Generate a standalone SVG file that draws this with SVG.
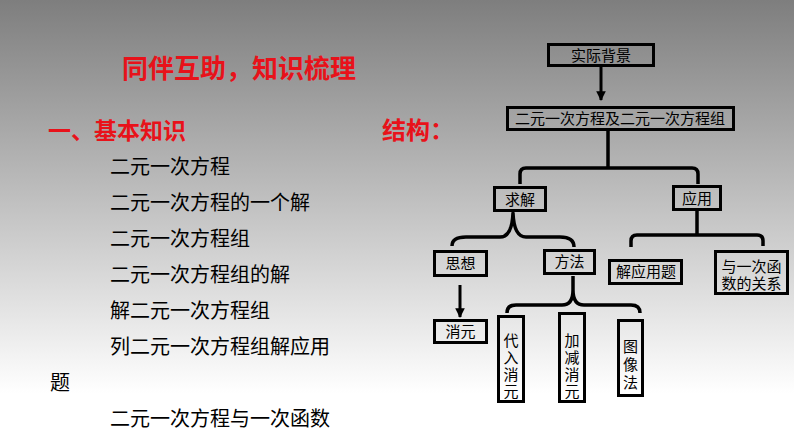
<svg xmlns="http://www.w3.org/2000/svg" width="794" height="447" viewBox="0 0 794 447">
<defs>
<linearGradient id="bg" x1="0" y1="0" x2="0" y2="1">
<stop offset="0" stop-color="#7e7e7e"/>
<stop offset="0.88" stop-color="#ffffff"/>
<stop offset="1" stop-color="#ffffff"/>
</linearGradient>
<marker id="arr" viewBox="0 0 10 10" refX="9" refY="5" markerWidth="3.2" markerHeight="3.2" orient="auto" markerUnits="strokeWidth">
<path d="M0,0 L10,5 L0,10 Z" fill="#000"/>
</marker>
<style>
text{font-family:"Noto Sans CJK SC","Noto Sans",sans-serif;}
.red{fill:#e8121a;font-weight:bold;}
.li{font-size:20px;fill:#000;}
.box{fill:none;stroke:#000;stroke-width:3;}
.n{font-size:15px;fill:#000;text-anchor:middle;}
.v{font-size:15px;fill:#000;writing-mode:vertical-rl;letter-spacing:2px;}
.ln{fill:none;stroke:#000;stroke-width:3.5;stroke-linejoin:round;}
</style>
</defs>
<rect x="0" y="0" width="794" height="447" fill="url(#bg)"/>
<text class="red" x="122" y="78" font-size="26">同伴互助，知识梳理</text>
<text class="red" x="48" y="139" font-size="23">一、基本知识</text>
<text class="red" x="382" y="139" font-size="24">结构：</text>
<g id="list">
<text class="li" x="110" y="174">二元一次方程</text>
<text class="li" x="110" y="210">二元一次方程的一个解</text>
<text class="li" x="110" y="246">二元一次方程组</text>
<text class="li" x="110" y="282">二元一次方程组的解</text>
<text class="li" x="110" y="318">解二元一次方程组</text>
<text class="li" x="110" y="354">列二元一次方程组解应用</text>
<text class="li" x="50" y="390">题</text>
<text class="li" x="110" y="426">二元一次方程与一次函数</text>
</g>
<g id="connectors">
<line class="ln" x1="601" y1="67" x2="601" y2="100" marker-end="url(#arr)" style="stroke-width:3"/>
<path class="ln" d="M608,131 V168 M520,184 V174 Q520,168 526,168 H692 Q698,168 698,174 V184"/>
<path class="ln" d="M452,246 Q452,237 466,237 L500,237 Q512,237 513,213 Q514,237 526,237 L560,237 Q574,237 574,247"/>
<path class="ln" d="M697,211 V235 M631,247 V241 Q631,235 637,235 H757 Q763,235 763,241 V246"/>
<line class="ln" x1="460" y1="285" x2="460" y2="317" marker-end="url(#arr)" style="stroke-width:3"/>
<path class="ln" d="M507,313 Q507,305 516,305 L562,305 Q573,305 573,290 L573,276 M573,290 Q573,305 584,305 L631,305 Q640,305 640,313"/>
</g>
<g id="n1"><rect class="box" x="548.5" y="44.5" width="105" height="21"/><text class="n" x="601" y="60.5">实际背景</text></g>
<g id="n2"><rect class="box" x="507.5" y="107.5" width="226" height="22"/><text class="n" x="620" y="124" font-size="16">二元一次方程及二元一次方程组</text></g>
<g id="n3"><rect class="box" x="494.5" y="187.5" width="51" height="23"/><text class="n" x="520" y="204.5">求解</text></g>
<g id="n4"><rect class="box" x="673.5" y="186.5" width="47" height="23"/><text class="n" x="697" y="203.5">应用</text></g>
<g id="n5"><rect class="box" x="434.5" y="251.5" width="52" height="24"/><text class="n" x="460.5" y="268.5">思想</text></g>
<g id="n6"><rect class="box" x="544.5" y="250.5" width="50" height="23"/><text class="n" x="569.5" y="267">方法</text></g>
<g id="n7"><rect class="box" x="609.5" y="260.5" width="72" height="23"/><text class="n" x="646" y="277">解应用题</text></g>
<g id="n8"><rect class="box" x="715.5" y="251.5" width="72" height="42"/><text class="n" x="751.5" y="271.5" font-size="14.5">与一次函<tspan x="751.5" dy="17">数的关系</tspan></text></g>
<g id="n9"><rect class="box" x="434.5" y="320.5" width="52" height="22"/><text class="n" x="460.5" y="336.5">消元</text></g>
<g id="n10"><rect class="box" x="498.5" y="316.5" width="25" height="85"/><text class="v" x="511" y="333">代入消元</text></g>
<g id="n11"><rect class="box" x="559.5" y="313.5" width="25" height="88"/><text class="v" x="572" y="333">加减消元</text></g>
<g id="n12"><rect class="box" x="618.5" y="320.5" width="24" height="75"/><text class="v" x="630.5" y="339" style="letter-spacing:3px">图像法</text></g>
</svg>
